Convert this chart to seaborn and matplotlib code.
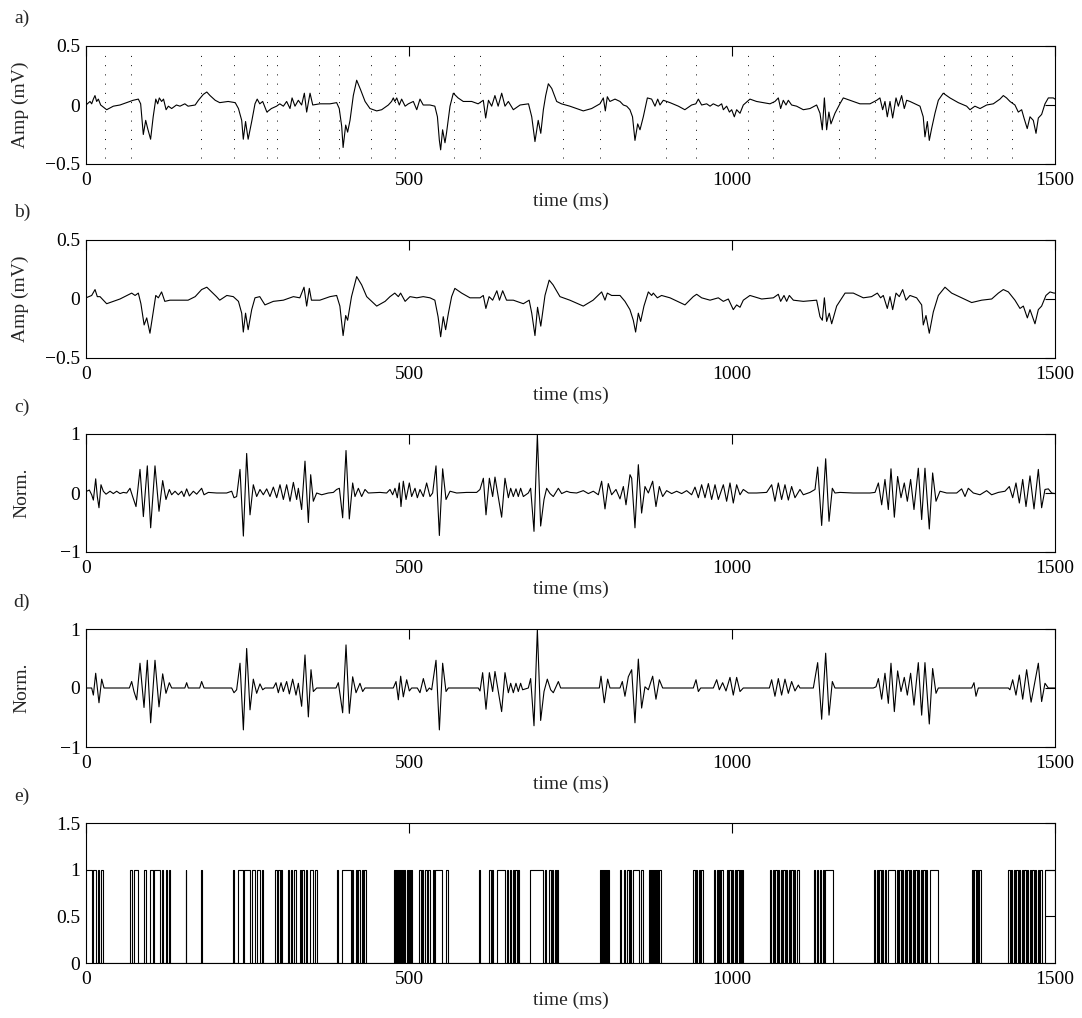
import matplotlib
matplotlib.use("Agg")
import matplotlib.pyplot as plt
import seaborn as sns

# ---------------- data ----------------
x_ticks = [0, 500, 1000, 1500]

# beat markers in panel a (ms)
beat_marks = [30, 70, 178, 229, 280, 296, 360, 392, 441, 479, 570, 610, 739,
              796, 898, 945, 1025, 1063, 1165, 1221, 1328, 1370, 1394, 1434]

# panel a: raw signal (time ms, amplitude mV)
a_points = [
    (0, 0.0), (6.2, 0.03), (8.8, 0.01), (11.4, 0.05), (13.9, 0.08), (16.5, 0.03), (19.1, 0.05),
    (22.7, 0.0), (32, -0.04), (42.3, -0.01), (52.6, 0.0), (63, 0.02), (68, 0.03), (73, 0.04),
    (81, 0.05), (84.6, 0.01), (88.7, -0.25), (92.4, -0.13), (95.5, -0.20), (100, -0.29),
    (104, -0.10), (108, 0.05), (111, 0.01), (113.5, 0.06), (117, 0.03), (120, 0.05),
    (124, -0.04), (127.5, -0.01), (132.6, -0.03), (140, 0.0), (145.5, -0.01), (153, 0.01),
    (158, -0.01), (169, 0.0), (174, 0.04), (181.6, 0.09), (187, 0.11), (192, 0.08), (200, 0.04),
    (207, 0.02), (220, 0.03), (231, 0.02), (236, -0.03), (241, -0.13), (243.5, -0.29),
    (247, -0.14), (251, -0.29), (256.5, -0.14), (261.6, 0.01), (265, 0.05), (269, 0.01),
    (273.5, 0.03), (280, -0.06), (287, -0.03), (295, -0.01), (300, 0.01), (305.5, -0.01),
    (310.6, 0.03), (315.8, -0.03), (319, 0.06), (323.5, -0.01), (328.7, 0.04), (333.8, 0.0),
    (338, 0.10), (341.6, -0.06), (346.8, 0.10), (351, 0.0), (362, 0.01), (377.7, 0.01),
    (388, 0.02), (392, -0.03), (395.8, -0.18), (398, -0.36), (402, -0.17), (405, -0.23),
    (408.7, -0.13), (413.8, 0.08), (419, 0.21), (425, 0.13), (432, 0.03), (439.6, -0.03),
    (450, -0.05), (457.7, -0.04), (468, 0.0), (473, 0.03), (475.7, 0.06), (478, 0.03),
    (481, 0.06), (485, 0.0), (488.6, 0.05), (494, -0.01), (499, 0.01), (506.7, 0.03),
    (512, -0.04), (517, 0.05), (522, 0.0), (532.5, 0.0), (540, -0.01), (544, -0.10),
    (547, -0.30), (549, -0.38), (552, -0.21), (555.7, -0.32), (558, -0.24), (563.5, -0.01),
    (568.6, 0.10), (576, 0.06), (584, 0.03), (597, 0.03), (607, 0.01), (615, 0.04),
    (618.7, -0.11), (623, 0.04), (628, -0.01), (633, 0.08), (638, -0.01), (643.5, 0.10),
    (648.6, -0.01), (653.8, 0.03), (661.5, -0.04), (672, 0.0), (685, 0.01), (690, -0.10),
    (695, -0.31), (700, -0.13), (704, -0.24), (708, -0.04), (711.6, 0.08), (715.7, 0.18),
    (721, 0.14), (728.6, 0.03), (736, 0.01), (749, -0.01),
    (769.8, -0.05), (782.7, -0.03), (795.6, 0.01), (800.8, 0.06), (803.9, -0.05), (807, 0.07),
    (811, 0.03), (818.9, 0.05), (826.6, 0.03), (831.8, 0.0), (837, -0.01), (842, -0.04),
    (846, -0.10), (849.8, -0.30), (854, -0.16), (857.6, -0.21), (862.7, -0.10), (869, 0.06),
    (875.6, 0.05), (880.8, -0.01), (885, 0.05), (888.5, 0.0), (893.7, 0.04), (904, 0.02),
    (917, -0.01), (927, -0.04), (937.5, 0.0), (944, 0.01), (947.9, 0.05), (953, 0.0),
    (960.8, 0.01), (966, -0.01), (971, 0.01), (978.8, -0.01), (984, 0.01), (986.6, -0.04),
    (991.7, -0.01), (996, -0.06), (999.5, -0.04), (1003.6, -0.10), (1007.2, -0.04),
    (1012.4, -0.07), (1017.5, 0.0), (1027.8, 0.05), (1038, 0.03), (1048.5, 0.02),
    (1058.8, 0.01), (1066.5, 0.03), (1071.7, 0.06), (1075.3, -0.03), (1079.4, 0.04),
    (1083.6, 0.0), (1087.2, 0.04), (1092.3, 0.0), (1100, -0.01), (1110.4, -0.04),
    (1120.7, -0.03), (1131, 0.0), (1136.2, -0.07), (1139.8, -0.21), (1143, 0.06),
    (1146.5, -0.21), (1150, -0.06), (1153.2, -0.16), (1159.4, -0.07), (1167, 0.01),
    (1172.3, 0.06), (1182.6, 0.04), (1198, 0.01), (1213.6, 0.01), (1224, 0.04), (1229, 0.06),
    (1233.2, -0.04), (1236.8, 0.03), (1240.4, -0.10), (1244.6, 0.03), (1248.7, -0.11),
    (1253.9, 0.06), (1257.5, -0.01), (1262.6, 0.08), (1266.7, -0.03), (1270.4, 0.04),
    (1275.5, 0.03), (1283.3, 0.01), (1291, -0.01), (1296, -0.10), (1298.7, -0.27),
    (1302.4, -0.14), (1305.4, -0.30), (1309, -0.20), (1314.2, -0.07), (1319.4, 0.04),
    (1327, 0.10), (1337.4, 0.06), (1350.3, 0.02), (1363.2, -0.01), (1368.4, -0.04),
    (1376, -0.01), (1384, -0.03), (1394.2, 0.0), (1404.5, 0.01), (1414.8, 0.05), (1420, 0.08),
    (1425, 0.06), (1430.3, 0.03), (1438, 0.0), (1443.2, -0.06), (1448.4, -0.04), (1452, -0.11),
    (1457, -0.20), (1461.3, -0.10), (1466.4, -0.13), (1470.6, -0.24), (1474.2, -0.11),
    (1479.3, -0.08), (1484.5, 0.01), (1489.7, 0.06), (1497.4, 0.06), (1500, 0.05),
]

# panel b: filtered signal
b_points = [
    (0, 0.01), (8.8, 0.03), (14, 0.08), (17.5, 0.02), (21.7, 0.02), (32, -0.04), (52.6, 0.0),
    (70.7, 0.05), (76, 0.03), (81, 0.05), (85, -0.04), (90, -0.22), (94, -0.16), (99, -0.29),
    (104, -0.11), (108, 0.03), (112, 0.01), (117, 0.06), (122, -0.02), (130, -0.01),
    (145.5, -0.01), (158, -0.01), (169, 0.02), (179, 0.08), (187, 0.10), (194.5, 0.06),
    (202, 0.02), (207, -0.01), (218, 0.03), (228, 0.02), (236, -0.02), (241, -0.12),
    (243.5, -0.28), (247, -0.12), (251, -0.26), (256.5, -0.09), (261.6, 0.01), (269, 0.02),
    (277, -0.05), (290, -0.02), (305.5, -0.01), (321, 0.02), (331, 0.01), (337.5, 0.10),
    (341.6, -0.06), (345.7, 0.09), (349, -0.01), (362, -0.01), (377.7, 0.02), (388, 0.03),
    (393, -0.06), (398, -0.31), (402, -0.14), (405, -0.18), (411, 0.02), (419, 0.19),
    (426.7, 0.12), (434.5, 0.02), (450, -0.06), (463, -0.02), (470.6, 0.02), (478, 0.05),
    (483.5, 0.02), (487, 0.05), (494, -0.02), (501.5, 0.02), (512, 0.01), (522, 0.02),
    (532.5, 0.01), (540, -0.01), (545, -0.15), (549, -0.32), (553, -0.15), (556.7, -0.26),
    (561, -0.12), (566, 0.02), (571, 0.09), (581.5, 0.05), (594.4, 0.01), (610, 0.01),
    (615, 0.03), (619, -0.08), (624, 0.02), (629.5, -0.01), (636, 0.07), (640, -0.01),
    (645, 0.07), (651, -0.01), (661.5, -0.01), (677, -0.04), (686, -0.01), (690, -0.12),
    (695, -0.31), (699, -0.07), (704, -0.23), (710.5, 0.03), (717, 0.16), (723, 0.12),
    (733.7, 0.02), (749, -0.01),
    (769.8, -0.06), (785, -0.01), (798.2, 0.06), (803.4, -0.01), (807, 0.05), (813.7, 0.03),
    (826.6, 0.03), (834.3, -0.02), (842, -0.09), (847.2, -0.18), (850.8, -0.28), (855, -0.12),
    (858.6, -0.19), (863.7, -0.06), (870.5, 0.06), (875.6, 0.03), (878.2, 0.05),
    (884.4, 0.01), (891, 0.03), (904, 0.01), (927.2, -0.05), (940, 0.02), (945.3, 0.04),
    (953, 0.01), (966, -0.01), (978.8, 0.01), (986.6, -0.02), (994.3, 0.0), (1002, -0.09),
    (1007.2, -0.05), (1012.4, -0.07), (1017.5, -0.01), (1027.8, 0.03), (1045.9, 0.0),
    (1064, 0.01), (1071.7, 0.04), (1075.3, -0.02), (1080.5, 0.03), (1084.6, -0.02),
    (1088.7, 0.03), (1095, -0.01), (1110.4, -0.02), (1131, -0.01), (1136.2, -0.15),
    (1139.8, -0.18), (1143, 0.01), (1146.5, -0.19), (1150.6, -0.12), (1154.3, -0.21),
    (1162, -0.06), (1175, 0.05), (1187.8, 0.05), (1203.3, 0.01), (1216, 0.02), (1225, 0.05),
    (1230, 0.01), (1234.2, 0.03), (1240.4, -0.08), (1244.6, 0.02), (1248.7, -0.09),
    (1253.9, 0.05), (1259, 0.02), (1264.2, 0.08), (1269.3, -0.01), (1275.5, 0.03),
    (1285.8, 0.01), (1293.6, -0.05), (1296.1, -0.22), (1300.3, -0.14), (1305.4, -0.29),
    (1311.6, -0.11), (1319.4, 0.03), (1329.7, 0.10), (1340, 0.05), (1355.5, 0.01),
    (1371, -0.03), (1386.5, -0.01), (1402, 0.0), (1412.3, 0.05), (1420, 0.08), (1427.8, 0.06),
    (1438, -0.01), (1445.8, -0.08), (1451, -0.06), (1457.2, -0.16), (1461.3, -0.09),
    (1469, -0.21), (1474.2, -0.09), (1479.3, -0.06), (1486, 0.03), (1492.3, 0.06),
    (1498.4, 0.05), (1500, 0.05),
]

# panel c: normalised wavelet detail
c_points = [
    (0, 0.02), (1.0, 0.03), (5.2, 0.05), (8.8, -0.03), (11.4, -0.12), (15.0, 0.24), (17.5, -0.06),
    (20.1, -0.25), (23.2, 0.14), (26.8, 0.03), (31.0, -0.02), (37.2, 0.03), (42.3, -0.01),
    (47.5, 0.03), (52.6, -0.01), (57.8, 0.01), (63.0, 0.0), (68.1, 0.08), (72.2, -0.06),
    (77.4, -0.23), (83.6, 0.40), (88.8, -0.40), (94.9, 0.46), (100.1, -0.59), (106.8, 0.46),
    (113.0, -0.31), (118.7, 0.21), (123.8, -0.11), (129.0, 0.06), (132.6, -0.03), (137.8, 0.03),
    (142.9, -0.03), (148.1, 0.03), (151.7, -0.06), (155.8, 0.07), (160.0, -0.05), (166.2, 0.03),
    (171.3, -0.02), (179.0, 0.08), (182.7, -0.03), (189.4, 0.01), (202.3, 0.0), (217.7, 0.0),
    (225.5, 0.03), (229.1, -0.08), (233.2, -0.06), (238.4, 0.40), (243.6, -0.73), (248.7, 0.67),
    (253.9, -0.37), (259.0, 0.14), (264.2, -0.06), (269.3, 0.06), (274.5, -0.03), (279.7, 0.07),
    (284.8, -0.06), (290.0, 0.10), (295.2, -0.08), (300.3, 0.14), (305.5, -0.11), (310.6, 0.14),
    (315.8, -0.14), (321.0, 0.18), (326.1, -0.11), (328.7, 0.08), (333.8, -0.28), (339.0, 0.54),
    (344.2, -0.50), (347.8, 0.31), (351.9, -0.14), (357.1, 0.0), (364.8, -0.03), (375.1, 0.0),
    (382.9, 0.01), (388.0, 0.06), (392.2, 0.08), (397.3, -0.42), (402.5, 0.72), (407.6, -0.44),
    (412.8, 0.17), (416.4, -0.06), (421.6, 0.08), (426.7, -0.06), (431.9, 0.06), (437.0, 0.0),
    (455.1, 0.01), (465.4, 0.0), (470.6, 0.06), (474.7, -0.03), (478.3, 0.08), (481.9, -0.08),
    (485.0, 0.17), (487.6, -0.23), (491.2, 0.20), (495.4, -0.11), (500.5, 0.17), (504.1, -0.06),
    (509.3, 0.08), (512.9, -0.08), (517.0, 0.06), (522.2, -0.06), (527.3, 0.17), (532.5, -0.06),
    (536.6, 0.0), (541.8, 0.46), (547.0, -0.72), (552.1, 0.41), (557.3, -0.11), (563.5, 0.03),
    (573.8, 0.0), (589.3, 0.01), (604.7, 0.01), (609.9, 0.06), (615.1, 0.25), (619.2, -0.37),
    (624.4, 0.25), (629.5, -0.06), (633.1, 0.27), (643.4, -0.41), (648.6, 0.25), (653.8, -0.08),
    (657.4, 0.08), (661.5, -0.06), (665.6, 0.07), (669.2, -0.06), (672.8, 0.08), (677.0, -0.06),
    (684.7, 0.0), (688.3, 0.08), (693.5, -0.65), (698.7, 0.99), (703.8, -0.56), (709.0, -0.11),
    (713.1, 0.08), (718.3, -0.01), (723.4, -0.06), (731.2, 0.08), (736.3, -0.01), (744.1, 0.03),
    (749.2, 0.01), (759.5, 0.0), (769.8, 0.04), (777.6, -0.01), (785.3, 0.03), (793.1, -0.03),
    (798.2, 0.20), (803.4, -0.27), (808.5, 0.16), (813.7, -0.03), (820.4, 0.06), (826.6, -0.10),
    (831.8, 0.11), (835.9, -0.20), (842.1, 0.31), (844.7, 0.25), (849.8, -0.59), (855.0, 0.48),
    (860.1, -0.34), (865.3, 0.11), (870.5, 0.0), (877.2, 0.20), (882.3, -0.23), (887.5, 0.11),
    (892.7, -0.06), (898.8, 0.04), (906.6, -0.01), (914.3, 0.03), (922.1, -0.01), (929.8, 0.04),
    (937.5, -0.03), (942.7, 0.10), (947.9, -0.08), (953.0, 0.14), (958.2, -0.08), (963.4, 0.16),
    (968.5, -0.11), (973.7, 0.14), (978.8, -0.11), (986.6, 0.14), (991.7, -0.14), (996.9, 0.17),
    (1002.0, -0.17), (1007.2, 0.14), (1012.4, -0.03), (1017.5, 0.06), (1025.3, 0.0),
    (1038.1, 0.0), (1053.6, 0.01), (1061.4, 0.14), (1066.5, -0.14), (1071.7, 0.17),
    (1076.8, -0.11), (1082.0, 0.14), (1087.2, -0.12), (1092.3, 0.11), (1097.5, -0.08),
    (1105.2, 0.06), (1110.4, -0.03), (1120.7, 0.01), (1128.5, 0.06), (1132.6, 0.44),
    (1138.8, -0.55), (1145.0, 0.58), (1150.2, -0.48), (1155.3, 0.08), (1159.4, 0.0),
    (1167.2, 0.01), (1187.8, 0.0), (1213.6, 0.0), (1221.4, 0.01), (1226.6, 0.17),
    (1231.7, -0.20), (1236.8, 0.23), (1242.0, -0.28), (1246.1, 0.41), (1251.3, -0.41),
    (1256.4, 0.28), (1261.6, -0.08), (1266.7, 0.17), (1271.4, -0.14), (1276.5, 0.23),
    (1281.7, -0.28), (1288.4, 0.42), (1293.6, -0.45), (1298.7, 0.42), (1305.4, -0.61),
    (1310.6, 0.34), (1315.8, -0.14), (1322.0, 0.03), (1332.3, 0.0), (1347.8, 0.0),
    (1355.5, 0.07), (1360.7, -0.06), (1365.8, 0.08), (1373.6, 0.0), (1383.9, -0.03),
    (1394.2, 0.04), (1401.9, -0.03), (1412.3, 0.01), (1422.6, 0.03), (1429.3, 0.11),
    (1434.5, -0.08), (1439.6, 0.17), (1444.8, -0.17), (1450.0, 0.23), (1455.1, -0.23),
    (1461.3, 0.29), (1467.5, -0.27), (1474.2, 0.40), (1479.3, -0.25), (1484.5, 0.06),
    (1489.7, 0.07), (1494.8, 0.0), (1500, -0.01),
]

# panel d: thresholded wavelet detail
d_points = [
    (0, 0.0), (8.8, 0.0), (11.4, -0.12), (15.0, 0.25), (20.1, -0.25), (24.3, 0.15), (27.9, 0.0),
    (67.1, 0.0), (70.7, 0.11), (74.3, -0.06), (78.4, -0.20), (83.6, 0.42), (89.8, -0.33),
    (94.9, 0.47), (100.1, -0.59), (106.8, 0.47), (113.0, -0.32), (118.7, 0.24), (123.8, -0.09),
    (129.0, 0.09), (132.6, 0.0), (153.0, 0.0), (155.8, 0.09), (158.4, 0.0), (176, 0.0),
    (179.0, 0.11), (182.7, 0.0), (225.5, 0.0), (229.1, -0.08), (233.2, -0.03), (238.4, 0.42),
    (243.6, -0.71), (248.7, 0.67), (253.9, -0.37), (259.0, 0.15), (264.2, -0.09), (269.3, 0.07),
    (273.5, -0.03), (277.1, 0.0), (290.0, 0.0), (294.1, 0.09), (297.7, -0.08), (301.9, 0.09),
    (305.5, -0.06), (310.6, 0.11), (314.8, -0.10), (319.9, 0.15), (325.1, -0.12), (328.7, 0.08),
    (333.8, -0.31), (339.0, 0.56), (344.2, -0.49), (348.3, 0.31), (351.9, -0.06), (357.1, 0.0),
    (387.0, 0.0), (390.6, 0.09), (397.3, -0.42), (402.5, 0.73), (407.6, -0.43), (412.8, 0.19),
    (418.0, -0.08), (424.1, 0.08), (428.3, -0.06), (431.9, 0.0), (475.7, 0.0), (479.9, 0.11),
    (483.5, -0.20), (487.1, 0.20), (491.2, -0.15), (496.4, 0.14), (500.5, -0.05), (504.1, 0.0),
    (512.9, 0.0), (517.0, -0.08), (522.2, 0.16), (527.3, -0.06), (531.5, 0.0), (535.1, -0.03),
    (541.8, 0.47), (547.0, -0.71), (552.1, 0.42), (557.3, -0.06), (560.9, 0.0), (607.3, 0.0),
    (609.9, -0.05), (614.0, 0.26), (619.2, -0.36), (624.4, 0.26), (629.5, -0.06), (633.1, 0.28),
    (643.4, -0.40), (648.6, 0.26), (653.8, -0.08), (657.4, 0.08), (661.5, -0.08), (665.6, 0.08),
    (669.2, -0.06), (672.8, 0.08), (675.9, -0.03), (684.7, 0.0), (688.3, 0.16), (693.5, -0.64),
    (698.7, 0.99), (703.8, -0.55), (709.0, -0.06), (714.1, 0.15), (719.3, -0.03), (723.4, -0.08),
    (731.2, 0.11), (734.8, 0.0), (794.6, 0.0), (797.2, 0.20), (802.3, -0.25), (807.5, 0.15),
    (811.1, 0.0), (826.6, 0.0), (830.2, 0.11), (834.3, -0.14), (839.5, 0.19), (844.7, 0.31),
    (849.8, -0.59), (855.0, 0.49), (860.1, -0.34), (865.3, 0.02), (870.5, -0.03), (877.2, 0.20),
    (882.3, -0.19), (887.5, 0.14), (892.7, 0.0), (940.1, 0.0), (944.3, 0.14), (947.9, -0.06),
    (951.5, 0.0), (971.1, 0.0), (976.3, 0.14), (980.4, -0.03), (985.5, 0.09), (990.7, -0.05),
    (996.9, 0.18), (1002.0, -0.12), (1007.2, 0.18), (1012.4, -0.06), (1017.5, 0.0),
    (1057.8, 0.0), (1061.4, 0.14), (1066.5, -0.14), (1071.7, 0.16), (1076.8, -0.12),
    (1082.0, 0.15), (1087.2, -0.09), (1092.3, 0.11), (1097.5, -0.05), (1102.7, 0.05),
    (1105.2, 0.0), (1125.9, 0.0), (1132.6, 0.43), (1138.8, -0.53), (1145.0, 0.59),
    (1150.2, -0.46), (1155.3, 0.11), (1159.4, 0.0), (1218.8, 0.0), (1222.9, 0.02),
    (1226.6, 0.16), (1231.7, -0.19), (1236.8, 0.25), (1242.0, -0.26), (1246.1, 0.42),
    (1251.3, -0.40), (1256.4, 0.29), (1261.6, -0.06), (1266.7, 0.18), (1271.4, -0.12),
    (1276.5, 0.25), (1281.7, -0.29), (1288.4, 0.43), (1293.6, -0.46), (1298.7, 0.43),
    (1305.4, -0.61), (1310.6, 0.33), (1315.8, -0.09), (1319.4, 0.0), (1371.0, 0.0),
    (1374.6, 0.09), (1377.7, -0.14), (1381.3, 0.0), (1427.8, 0.0), (1430.3, -0.03),
    (1434.5, 0.14), (1439.6, -0.12), (1444.8, 0.22), (1450.0, -0.19), (1456.1, 0.31),
    (1463.0, -0.24), (1474.2, 0.42), (1479.3, -0.23), (1484.5, 0.08), (1489.7, 0.0),
    (1500, 0.0),
]

# panel e: binary detection signal, (start, end) of every interval at level 1
e_pulses = [
    (0, 8.8), (11.4, 15.5), (18.1, 20.6), (23.2, 26.8),
    (68.1, 70.7), (74.8, 80.0), (90.3, 92.9), (99.1, 103.2), (105.3, 114.6), (117.1, 119.7),
    (123.8, 125.9), (129.0, 130.5), (154.3, 155.3), (178.5, 179.5),
    (227.0, 229.1), (235.8, 243.6), (245.1, 253.9), (256.4, 261.6), (264.2, 269.3), (271.9, 274.5),
    (293.1, 295.2), (297.2, 300.3), (302.4, 303.9), (313.2, 314.8), (316.8, 319.4), (322.0, 325.1),
    (331.3, 332.8), (334.9, 337.5), (340.6, 342.6), (346.7, 351.9), (354.5, 357.1),
    (389.1, 390.1), (395.8, 409.7), (411.2, 412.8), (418.0, 419.5), (421.6, 424.1),
    (426.7, 429.3), (430.8, 433.4),
    (477.3, 478.8), (480.4, 481.9), (483.5, 485.0), (486.6, 488.1), (489.7, 491.2),
    (492.8, 494.3), (496.4, 497.9), (500.0, 501.5), (502.6, 504.1),
    (516.0, 518.1), (520.1, 522.2), (524.3, 527.3), (529.9, 532.0), (536.6, 538.7),
    (540.8, 550.6), (557.3, 560.9),
    (608.9, 609.9), (624.4, 626.4), (628.5, 629.5), (635.7, 648.6), (651.2, 653.3),
    (656.3, 658.4), (660.5, 662.5), (664.6, 666.7), (669.2, 670.8),
    (687.3, 708.0), (710.5, 712.1), (717.2, 719.3), (721.9, 723.4), (725.5, 727.0), (729.1, 730.7),
    (795.6, 797.2), (798.7, 800.3), (801.8, 803.4), (804.9, 806.5), (808.0, 810.1),
    (826.6, 828.7), (832.8, 834.9), (838.0, 840.0), (842.1, 844.2), (847.2, 856.5), (859.6, 861.7),
    (871.0, 872.5), (874.1, 876.1), (877.7, 879.2), (880.8, 882.3), (884.4, 885.9), (887.5, 889.6),
    (940.1, 942.2), (944.2, 946.3), (948.4, 950.4), (952.5, 954.6),
    (972.1, 974.2), (976.2, 978.3), (980.4, 981.9), (983.5, 985.5),
    (991.7, 993.8), (995.9, 997.9), (1000.0, 1002.0), (1004.1, 1006.2), (1008.2, 1010.3),
    (1012.4, 1014.4), (1016.0, 1017.5),
    (1058.8, 1060.9), (1063.0, 1065.0), (1067.1, 1069.1), (1071.2, 1073.2), (1075.3, 1077.4),
    (1079.4, 1081.5), (1083.6, 1085.6), (1087.7, 1089.8), (1091.8, 1093.9), (1095.9, 1098.0),
    (1100.1, 1103.2),
    (1126.9, 1129.0), (1131.0, 1133.1), (1136.2, 1138.3), (1140.3, 1142.4), (1143.9, 1156.8),
    (1219.8, 1221.9), (1223.9, 1226.0), (1228.0, 1230.1), (1232.2, 1234.2), (1236.3, 1238.4),
    (1242.0, 1252.3), (1254.9, 1257.0), (1259.0, 1261.1), (1263.1, 1265.2), (1267.3, 1269.3),
    (1271.4, 1273.5), (1275.5, 1277.6), (1279.6, 1281.7), (1283.8, 1285.8), (1287.9, 1290.0),
    (1292.0, 1294.1), (1296.2, 1298.2), (1300.3, 1302.4), (1306.5, 1319.4),
    (1371.0, 1373.0), (1375.1, 1377.2), (1379.2, 1381.3), (1382.8, 1384.9),
    (1427.8, 1429.8), (1431.9, 1433.9), (1436.0, 1438.1), (1440.1, 1442.2), (1444.3, 1446.3),
    (1448.4, 1450.4), (1452.5, 1454.6), (1456.6, 1458.7), (1460.7, 1462.8), (1464.9, 1466.9),
    (1469.0, 1471.1), (1473.1, 1475.2), (1477.3, 1479.3), (1484.5, 1500),
]

panel_letters = ["a)", "b)", "c)", "d)", "e)"]

# ---------------- style ----------------
sns.set_style("white")
plt.rcParams["font.family"] = ["Liberation Serif", "DejaVu Serif"]
plt.rcParams["font.size"] = 14
plt.rcParams["axes.linewidth"] = 0.8
plt.rcParams["axes.edgecolor"] = "black"

W, H = 1082, 1018
fig = plt.figure(figsize=(W / 100, H / 100), dpi=100)

left_px, right_px = 86, 1055
boxes = [(46, 164), (240, 358), (434, 552), (629, 747), (823, 963)]
axes = []
for top, bot in boxes:
    ax = fig.add_axes([left_px / W, 1 - bot / H, (right_px - left_px) / W, (bot - top) / H])
    axes.append(ax)

def unzip(points):
    return [p[0] for p in points], [p[1] for p in points]

line_kw = dict(color="black", linewidth=0.8, estimator=None, sort=False)

a_t, a_v = unzip(a_points)
b_t, b_v = unzip(b_points)
c_t, c_v = unzip(c_points)
d_t, d_v = unzip(d_points)

sns.lineplot(x=a_t, y=a_v, ax=axes[0], **line_kw)
for t in beat_marks:
    axes[0].axvline(t, ymin=0.05, ymax=0.95, color="black",
                    linestyle=(0, (1, 8.5)), linewidth=0.7)
sns.lineplot(x=b_t, y=b_v, ax=axes[1], **line_kw)
sns.lineplot(x=c_t, y=c_v, ax=axes[2], **line_kw)
sns.lineplot(x=d_t, y=d_v, ax=axes[3], **line_kw)

e_t, e_v = [], []
if e_pulses[0][0] > 0:
    e_t.append(0)
    e_v.append(0)
for s, e in e_pulses:
    e_t += [s, e]
    e_v += [1, 0]
sns.lineplot(x=e_t, y=e_v, ax=axes[4], drawstyle="steps-post", **line_kw)

ylims = [(-0.5, 0.5), (-0.5, 0.5), (-1, 1), (-1, 1), (0, 1.5)]
yticks = [[-0.5, 0, 0.5], [-0.5, 0, 0.5], [-1, 0, 1], [-1, 0, 1], [0, 0.5, 1, 1.5]]
ytick_labels = [["\u22120.5", "0", "0.5"], ["\u22120.5", "0", "0.5"],
                ["\u22121", "0", "1"], ["\u22121", "0", "1"], ["0", "0.5", "1", "1.5"]]
ylabels = ["Amp (mV)", "Amp (mV)", "Norm.", "Norm.", ""]
ylabel_x = [20, 20, 22, 22, 22]

for i, ax in enumerate(axes):
    top, bot = boxes[i]
    hpx = bot - top
    ax.set_xlim(0, 1500)
    ax.set_ylim(*ylims[i])
    ax.set_xticks(x_ticks)
    ax.set_xticklabels([str(x) for x in x_ticks])
    ax.set_yticks(yticks[i])
    ax.set_yticklabels(ytick_labels[i])
    ax.tick_params(axis="both", direction="in", top=True, right=True, length=7, width=0.8,
                   labelsize=14, colors="black")
    ax.tick_params(axis="x", pad=6)
    ax.tick_params(axis="y", pad=4)
    for sp in ax.spines.values():
        sp.set_visible(True)
        sp.set_color("black")
        sp.set_linewidth(0.8)
    ax.set_xlabel("time (ms)", fontsize=14, va="center")
    ax.xaxis.set_label_coords(0.5, -37 / hpx)
    if ylabels[i]:
        ax.set_ylabel(ylabels[i], fontsize=14, va="center")
        ax.yaxis.set_label_coords((ylabel_x[i] - left_px) / (right_px - left_px), 0.5)
    else:
        ax.set_ylabel("")
    ax.set_facecolor("white")

letter_y = [18, 212, 407, 602, 796]
for lab, y in zip(panel_letters, letter_y):
    fig.text(22 / W, 1 - y / H, lab, ha="center", va="center", fontsize=14)

fig.savefig("out.png", dpi=100, facecolor="white")
